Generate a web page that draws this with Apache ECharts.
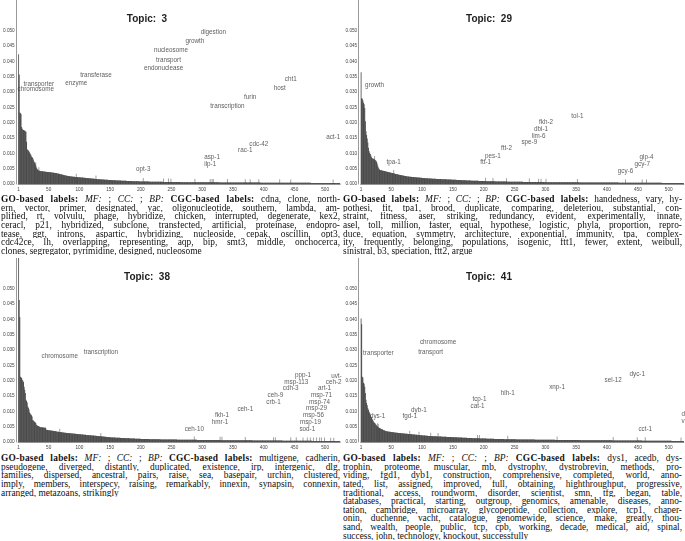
<!DOCTYPE html>
<html><head><meta charset="utf-8">
<script src="https://cdn.jsdelivr.net/npm/echarts@6/dist/echarts.min.js"></script>
<style>
body{margin:0;width:685px;height:541px;overflow:hidden;background:#fff;position:relative;}
.panel{position:absolute;overflow:hidden;}
.txt{position:absolute;width:339px;font-family:"Liberation Serif",serif;font-size:9.4px;line-height:8.6px;color:#111;}
.txt div{text-align:justify;text-align-last:justify;height:8.6px;overflow:hidden;}
.txt div.last{text-align-last:left;}
.txt b{letter-spacing:0.25px;}
</style></head>
<body>
<div id="p1" class="panel" style="left:0;top:0;width:342px;height:196px"></div>
<div id="p2" class="panel" style="left:342px;top:0;width:343px;height:196px"></div>
<div id="p3" class="panel" style="left:0;top:258px;width:342px;height:196px"></div>
<div id="p4" class="panel" style="left:342px;top:258px;width:343px;height:196px"></div>

<div class="txt" style="left:1px;top:195.3px">
<div><b>GO-based labels:</b> <i>MF:</i> ; <i>CC:</i> ; <i>BP:</i> <b>CGC-based labels:</b> cdna, clone, north-</div>
<div>ern, vector, primer, designated, yac, oligonucleotide, southern, lambda, am-</div>
<div>plified, rt, volvulu, phage, hybridize, chicken, interrupted, degenerate, kex2,</div>
<div>ceracl, p21, hybridized, subclone, transfected, artificial, proteinase, endopro-</div>
<div>tease, ggt, introns, aspartic, hybridizing, nucleoside, cepak, oscillin, opt3,</div>
<div>cdc42ce, lh, overlapping, representing, aqp, bip, smt3, middle, onchocerca,</div>
<div class="last">clones, segregator, pyrimidine, designed, nucleosome</div>
</div>
<div class="txt" style="left:343px;top:195.3px">
<div><b>GO-based labels:</b> <i>MF:</i> ; <i>CC:</i> ; <i>BP:</i> <b>CGC-based labels:</b> handedness, vary, hy-</div>
<div>pothesi, fit, tpa1, brood, duplicate, comparing, deleteriou, substantial, con-</div>
<div>straint, fitness, aser, striking, redundancy, evident, experimentally, innate,</div>
<div>asel, toll, million, faster, equal, hypothese, logistic, phyla, proportion, repro-</div>
<div>duce, equation, symmetry, architecture, exponential, immunity, tpa, complex-</div>
<div>ity, frequently, belonging, populations, isogenic, ftt1, fewer, extent, weibull,</div>
<div class="last">sinistral, b3, speciation, ftt2, argue</div>
</div>
<div class="txt" style="left:1px;top:454.3px">
<div><b>GO-based labels:</b> <i>MF:</i> ; <i>CC:</i> ; <i>BP:</i> <b>CGC-based labels:</b> multigene, cadherin,</div>
<div>pseudogene, diverged, distantly, duplicated, existence, irp, intergenic, dlg,</div>
<div>families, dispersed, ancestral, pairs, raise, sea, basepair, urchin, clustered,</div>
<div>imply, members, interspecy, raising, remarkably, innexin, synapsin, connexin,</div>
<div class="last">arranged, metazoans, strikingly</div>
</div>
<div class="txt" style="left:343px;top:454.3px">
<div><b>GO-based labels:</b> <i>MF:</i> ; <i>CC:</i> ; <i>BP:</i> <b>CGC-based labels:</b> dys1, acedb, dys-</div>
<div>trophin, proteome, muscular, mb, dystrophy, dystrobrevin, methods, pro-</div>
<div>viding, fgd1, dyb1, construction, comprehensive, completed, world, anno-</div>
<div>tated, list, assigned, improved, full, obtaining, highthroughput, progressive,</div>
<div>traditional, access, roundworm, disorder, scientist, smn, tfg, began, table,</div>
<div>databases, practical, starting, outgroup, genomics, amenable, diseases, anno-</div>
<div>tation, cambridge, microarray, glycopeptide, collection, explore, tcp1, chaper-</div>
<div>onin, duchenne, vacht, catalogue, genomewide, science, make, greatly, thou-</div>
<div>sand, wealth, people, public, tcp, cpb, working, decade, medical, aid, spinal,</div>
<div class="last">success, john, technology, knockout, successfully</div>
</div>

<script>
// All probabilities are stored in units of 1e-5 (e.g. 4230 = 0.04230).
var N_WORDS = 524;
var xTickLabels = ['1','50','100','150','200','250','300','350','400','450','500'];
var yTickLabels = ['0.000','0.005','0.010','0.015','0.020','0.025','0.030','0.035','0.040','0.045','0.050'];

var topic3Values = [
4230,3570,2330,2310,2280,1860,1800,1770,1760,1750,1740,1720,1700,1380,1130,1110,1090,1060,1030,990,
950,900,880,850,800,740,700,670,600,540,500,470,450,440,430,425,420,418,415,412,
410,408,405,402,400,398,395,392,390,388,385,382,380,378,375,372,370,368,365,362,
358,355,350,345,340,336,332,328,322,318,312,306,300,295,290,285,280,275,270,266,
262,258,255,252,250,248,245,242,240,238,236,234,232,230,228,226,224,222,220,218,
216,214,212,210,208,206,204,202,200,198,196,194,192,190,188,186,184,182,180,178,
176,174,172,170,168,166,164,162,160,158,156,155,154,152,150,149,148,146,144,143,
142,140,139,138,136,135,134,132,131,130,128,127,126,125,124,122,121,120,119,118,
117,116,115,114,113,112,111,110,109,108,107,106,105,104,103,102,101,100,99,98,
97,96,96,95,94,93,93,92,91,90,90,89,88,88,87,86,86,85,84,84,
83,83,82,82,81,81,80,80,80,79,79,78,78,77,77,77,76,76,75,75,
75,74,74,73,73,73,72,72,72,71,71,71,70,70,70,69,69,69,68,68,
68,67,67,67,66,66,66,66,65,65,65,64,64,64,64,63,63,63,63,62,
62,62,62,62,61,61,61,61,61,61,61,60,60,60,60,60,60,60,60,60,
60,60,60,59,59,59,59,59,58,58,58,58,58,58,57,57,57,57,57,57,
56,56,56,56,56,56,55,55,55,55,55,55,55,54,54,54,54,54,54,54,
53,53,53,53,53,53,53,52,52,52,52,52,52,52,52,51,51,51,51,51,
51,51,50,50,50,50,50,50,50,50,49,49,49,49,49,49,49,49,48,48,
48,48,48,48,48,48,48,47,47,47,47,47,47,47,47,47,46,46,46,46,
46,46,46,46,46,45,45,45,45,45,45,45,45,45,44,44,44,44,44,44,
44,44,44,43,43,43,43,43,43,43,43,43,43,42,42,42,42,42,42,42,
42,42,42,41,41,41,41,41,41,41,41,41,41,41,40,40,40,40,40,40,
40,40,40,40,40,39,39,39,39,39,39,39,39,39,39,38,38,38,38,38,
38,38,38,38,38,38,37,37,37,37,37,37,37,37,37,37,36,36,36,36,
36,36,36,36,36,36,35,35,35,35,35,35,35,35,35,35,34,34,34,34,
34,34,34,34,34,33,33,33,33,33,33,33,33,33,32,32,32,32,32,32,
32,31,31,31];

var topic29Values = [
3640,2800,2780,2720,2650,2600,2480,2050,1720,1600,1480,1350,1180,1080,1020,980,930,870,840,830,
820,815,800,780,760,730,680,600,540,500,470,460,450,445,440,435,430,425,420,415,
410,405,400,395,390,385,380,375,370,365,360,355,350,345,340,335,330,325,320,315,
310,305,300,296,292,288,284,280,276,272,268,264,260,256,252,248,245,242,240,238,
236,234,232,230,228,226,224,222,220,218,216,214,212,210,208,206,204,202,200,198,
196,194,192,190,189,188,186,185,184,182,181,180,178,177,176,175,174,172,171,170,
169,168,167,166,165,164,163,162,161,160,159,158,157,156,155,154,153,152,151,150,
149,148,147,146,145,144,143,142,141,140,139,138,137,136,135,134,133,132,131,130,
129,128,127,126,125,124,123,122,121,120,119,118,117,116,115,114,113,112,111,110,
109,108,108,107,106,105,105,104,103,102,102,101,100,100,99,98,98,97,96,96,
95,95,94,93,93,92,92,91,90,90,89,89,88,88,87,87,86,86,85,85,
84,84,83,83,82,82,82,81,81,80,80,80,79,79,78,78,78,77,77,77,
76,76,76,75,75,75,74,74,74,73,73,73,72,72,72,72,71,71,71,70,
70,70,70,69,69,69,69,68,68,68,68,67,67,67,67,66,66,66,66,65,
65,65,65,65,64,64,64,64,64,63,63,63,63,63,62,62,62,62,62,61,
61,61,61,61,60,60,60,60,60,60,59,59,59,59,59,58,58,58,58,58,
58,57,57,57,57,57,57,56,56,56,56,56,56,55,55,55,55,55,55,55,
54,54,54,54,54,54,54,53,53,53,53,53,53,53,52,52,52,52,52,52,
52,51,51,51,51,51,51,51,50,50,50,50,50,50,50,50,49,49,49,49,
49,49,49,49,48,48,48,48,48,48,48,48,47,47,47,47,47,47,47,47,
46,46,46,46,46,46,46,46,46,45,45,45,45,45,45,45,45,45,44,44,
44,44,44,44,44,44,44,43,43,43,43,43,43,43,43,43,42,42,42,42,
42,42,42,42,42,41,41,41,41,41,41,41,41,41,40,40,40,40,40,40,
40,40,40,39,39,39,39,39,39,39,39,39,38,38,38,38,38,38,38,38,
37,37,37,37,37,37,37,37,36,36,36,36,36,36,36,36,35,35,35,35,
35,35,35,35,34,34,34,34,34,34,34,33,33,33,33,33,33,33,32,32,
32,32,31,31];

var topic38Values = [
6400,4630,4080,2130,2110,2090,2030,2000,1960,1800,1700,1600,1380,1340,1290,1160,1120,1060,960,930,
900,870,830,720,700,680,660,640,620,560,540,530,520,510,495,490,485,480,478,475,
472,470,468,465,462,400,396,392,388,385,382,379,376,373,370,367,364,361,358,355,
350,346,342,338,335,332,329,326,323,320,317,314,311,308,305,302,300,298,296,294,
292,290,288,286,284,282,280,278,276,274,272,270,268,266,264,262,260,258,256,254,
252,250,248,246,244,242,240,238,236,234,232,230,228,226,224,222,220,218,216,214,
212,210,208,206,204,202,200,198,196,194,192,190,188,186,184,182,180,178,176,174,
172,170,168,166,164,162,160,158,156,154,152,150,148,147,146,145,144,143,142,141,
140,139,138,137,136,135,134,133,132,131,130,129,128,127,126,125,124,123,122,121,
120,119,118,117,116,115,114,113,112,111,110,109,108,107,106,105,104,103,102,101,
100,99,99,98,98,97,97,96,96,95,95,94,94,93,93,92,92,91,91,90,
90,89,89,88,88,87,87,87,86,86,86,85,85,85,84,84,84,83,83,83,
82,82,82,81,81,81,80,80,80,80,79,79,79,79,78,78,78,78,77,77,
77,77,76,76,76,76,75,75,75,75,74,74,74,74,73,73,73,73,72,72,
72,72,71,71,71,71,70,70,70,70,70,69,69,69,69,69,68,68,68,68,
67,67,67,67,66,66,66,66,66,65,65,65,65,65,64,64,64,64,64,63,
63,63,63,63,62,62,62,62,62,61,61,61,61,61,60,60,60,60,60,60,
59,59,59,59,59,58,58,58,58,58,58,57,57,57,57,57,57,56,56,56,
56,56,56,55,55,55,55,55,55,54,54,54,54,54,54,53,53,53,53,53,
53,52,52,52,52,52,52,51,51,51,51,51,51,50,50,50,50,50,50,50,
49,49,49,49,49,49,48,48,48,48,48,48,47,47,47,47,47,47,46,46,
46,46,46,46,45,45,45,45,45,45,44,44,44,44,44,44,43,43,43,43,
43,43,42,42,42,42,42,42,41,41,41,41,41,41,40,40,40,40,40,40,
39,39,39,39,39,39,38,38,38,38,38,38,37,37,37,37,37,37,36,36,
36,36,36,36,35,35,35,35,35,35,34,34,34,34,34,34,33,33,33,33,
33,33,32,32,32,32,32,32,31,31,31,31,31,31,30,30,30,30,30,30,
29,29,29,29];

var topic41Values = [
4030,3840,2130,2100,1930,1900,1800,1600,1380,1270,1200,1100,1050,990,950,900,830,800,760,720,
680,640,620,600,570,550,520,500,480,465,455,445,435,425,415,405,395,385,375,365,
355,350,347,344,341,338,335,332,329,326,323,320,317,314,311,308,305,302,300,298,
296,294,292,290,288,286,284,282,280,278,276,274,272,270,268,266,264,262,260,258,
256,254,252,250,248,246,244,242,240,238,236,234,232,230,228,226,224,222,220,218,
216,214,212,210,208,206,204,202,200,198,196,195,194,193,192,191,190,189,188,187,
186,185,184,183,182,181,180,179,178,177,176,175,174,173,172,171,170,169,168,167,
166,165,164,163,162,161,160,159,158,157,156,155,154,153,152,151,150,149,148,147,
146,145,144,143,142,141,140,139,138,137,136,135,134,133,132,131,130,129,128,127,
126,125,124,123,122,122,121,121,120,120,119,119,118,118,117,117,116,116,115,115,
114,113,112,111,110,109,108,107,106,105,104,104,103,103,102,102,101,101,100,100,
99,99,98,98,97,97,96,96,95,95,94,94,93,93,92,92,91,91,90,90,
89,89,89,88,88,88,87,87,87,86,86,86,85,85,85,84,84,84,83,83,
83,83,82,82,82,82,81,81,81,81,80,80,80,80,79,79,79,79,78,78,
78,78,77,77,77,77,76,76,76,76,75,75,75,75,74,74,74,74,73,73,
73,73,72,72,72,72,71,71,71,71,70,70,70,70,70,69,69,69,69,69,
68,68,68,68,68,67,67,67,67,67,66,66,66,66,66,65,65,65,65,65,
64,64,64,64,64,63,63,63,63,63,62,62,62,62,62,61,61,61,61,61,
60,60,60,60,60,60,59,59,59,59,59,59,58,58,58,58,58,58,57,57,
57,57,57,57,56,56,56,56,56,56,55,55,55,55,55,55,54,54,54,54,
54,54,53,53,53,53,53,53,52,52,52,52,52,52,51,51,51,51,51,51,
50,50,50,50,50,50,49,49,49,49,49,49,48,48,48,48,48,48,47,47,
47,47,47,47,46,46,46,46,46,46,45,45,45,45,45,45,44,44,44,44,
44,44,43,43,43,43,43,43,42,42,42,42,42,42,41,41,41,41,41,41,
40,40,40,40,40,40,39,39,39,39,39,39,38,38,38,38,38,38,37,37,
37,37,37,37,36,36,36,36,36,36,35,35,35,35,35,35,34,34,34,34,
34,33,33,33];

// word labels: [text, rank, height (1e-5 units)]
var topic3Labels = [
['digestion',318,4940],['growth',288,4650],['nucleosome',249,4350],['transport',245,4050],
['endonuclease',237,3760],['transferase',127,3550],['enzyme',95,3300],['transporter',34,3250],
['chromosome',29,3090],['cht1',444,3420],['host',426,3130],['furin',378,2830],
['transcription',341,2530],['act-1',513,1540],['cdc-42',392,1310],['rac-1',370,1100],
['asp-1',316,880],['ilp-1',313,660],['opt-3',204,470]];
var topic3EdgeLabels = [];

var topic29Labels = [
['growth',23,3210],['tpa-1',54,710],['tol-1',352,2220],['fkh-2',301,2010],['dbl-1',293,1790],
['lim-6',289,1570],['spe-9',274,1350],['ftt-2',237,1150],['pes-1',215,920],['ftt-1',203,710],
['glp-4',464,870],['gcy-7',457,640],['gcy-6',430,410]];
var topic29EdgeLabels = [];

var topic38Labels = [
['chromosome',68,2810],['transcription',135,2940],['ppp-1',464,2170],['msp-113',453,1960],
['cdh-3',444,1740],['ceh-9',419,1530],['crb-1',416,1300],['ceh-1',370,1080],['fkh-1',332,880],
['hmr-1',329,650],['ceh-10',287,420],['ceh-2',514,1960],['art-1',499,1740],['msp-71',494,1520],
['msp-74',491,1300],['msp-29',486,1090],['msp-56',481,870],['msp-19',476,640],['sod-1',471,420]];
var topic38EdgeLabels = [['uvt-1',509,2160]];

var topic41Labels = [
['chromosome',126,3240],['transport',114,2940],['transporter',29,2900],['dyc-1',449,2210],
['sel-12',410,2000],['xnp-1',319,1790],['hlh-1',239,1590],['tcp-1',193,1390],['cat-1',190,1170],
['dyb-1',95,1030],['fgd-1',80,830],['dys-1',28,830],['cct-1',462,430]];
var topic41EdgeLabels = [['dim-1',520,890],['vab-10',520,670]];

var ranks = [];
for (var i = 1; i <= N_WORDS; i++) ranks.push(String(i));

function makePanel(id, title, values, labels, edgeLabels, gridLeft, gridWidth) {
  var chart = echarts.init(document.getElementById(id), null, {renderer: 'canvas'});
  var tickData = ranks.map(function () { return '-'; });
  labels.concat(edgeLabels).forEach(function (l) {
    var k = l[1] - 1;
    tickData[k] = values[k] + 110;
  });
  var font = 'Liberation Sans, Arial, sans-serif';
  chart.setOption({
    animation: false,
    title: {
      text: title, left: 142, top: 9, textAlign: 'center',
      textStyle: {fontFamily: font, fontSize: 10, fontWeight: 'bold', color: '#1e1e1e'}
    },
    grid: {left: gridLeft, top: 0, width: gridWidth, height: 184},
    xAxis: [{
      type: 'category', data: ranks, boundaryGap: true,
      axisLine: {show: true, lineStyle: {color: '#777', width: 0.8}},
      axisTick: {show: false},
      axisLabel: {
        interval: function (i, v) { return xTickLabels.indexOf(v) >= 0; },
        fontSize: 4.7, color: '#444', margin: 3, fontFamily: font
      },
      splitLine: {show: false}
    }, {
      type: 'category', data: ranks, boundaryGap: true, show: false
    }],
    yAxis: {
      type: 'value', min: 0, max: 6000, interval: 500, offset: 2,
      axisLine: {show: true, lineStyle: {color: '#9a9a9a', width: 1}},
      axisTick: {show: false}, splitLine: {show: false},
      axisLabel: {
        fontSize: 4.7, color: '#444', margin: 1.5, fontFamily: font,
        formatter: function (v) { return yTickLabels[Math.round(v / 500)] || ''; }
      }
    },
    series: [{
      type: 'bar', xAxisIndex: 1, data: tickData, barWidth: 1, z: 1, silent: true,
      itemStyle: {color: '#a3a3a3'}
    }, {
      type: 'bar', xAxisIndex: 0, data: values, barCategoryGap: '0%', z: 2, silent: true,
      itemStyle: {color: '#4a4a4a'}
    }, {
      type: 'scatter', xAxisIndex: 0, symbolSize: 1, z: 3, silent: true,
      itemStyle: {color: 'rgba(0,0,0,0)'},
      data: labels.map(function (l) { return {name: l[0], value: [l[1] - 1, l[2]]}; }),
      label: {show: true, position: 'inside', formatter: '{b}', fontSize: 6.3, color: '#333', fontFamily: font}
    }, {
      type: 'scatter', xAxisIndex: 0, symbolSize: 1, z: 3, silent: true,
      itemStyle: {color: 'rgba(0,0,0,0)'},
      data: edgeLabels.map(function (l) { return {name: l[0], value: [l[1] - 1, l[2]]}; }),
      label: {show: true, position: 'right', distance: 0, formatter: '{b}', fontSize: 6.3, color: '#333', fontFamily: font}
    }]
  });
}

makePanel('p1', 'Topic:  3', topic3Values, topic3Labels, topic3EdgeLabels, 15.7, 324.5);
makePanel('p2', 'Topic:  29', topic29Values, topic29Labels, topic29EdgeLabels, 18.7, 323.1);
makePanel('p3', 'Topic:  38', topic38Values, topic38Labels, topic38EdgeLabels, 15.7, 324.5);
makePanel('p4', 'Topic:  41', topic41Values, topic41Labels, topic41EdgeLabels, 18.7, 323.1);
</script>
</body></html>
